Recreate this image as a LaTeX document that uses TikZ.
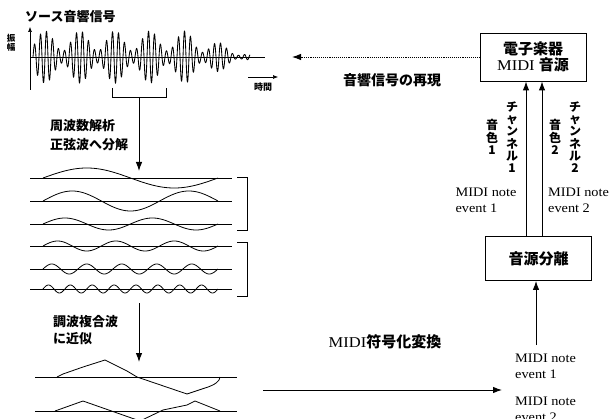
\documentclass[tikz,border=0pt]{standalone}
\usepackage{fontspec}
\setmainfont{Liberation Serif}[FakeStretch=1.1]
\newfontfamily\jp{Noto Sans CJK JP}
\usetikzlibrary{arrows.meta}
\begin{document}
\begin{tikzpicture}[x=1pt,y=-1pt,
  jt/.style={font=\jp\bfseries\fontsize{13}{15}\selectfont, inner sep=0pt},
  vt/.style={font=\jp\bfseries\fontsize{12}{12.3}\selectfont, align=center, inner sep=0pt},
  note/.style={font=\fontsize{13}{16}\selectfont, align=left, inner sep=0pt},
  box/.style={draw, line width=0.9pt, inner sep=0pt, minimum width=106pt, minimum height=46pt, align=center},
  arr/.style={line width=0.9pt, -{Latex[length=9pt,width=6.5pt]}},
  sarr/.style={line width=0.6pt, -{Latex[length=5pt,width=4pt]}},
  wave/.style={line width=0.8pt},
  base/.style={line width=0.8pt},
]
\useasboundingbox (0,0) rectangle (609,419);

% ---- source signal ----
\node[jt, anchor=west] (title) at (25,17) {ソース音響信号};
\node[font=\jp\bfseries\fontsize{8.5}{9.5}\selectfont, align=center, inner sep=0pt] (amp) at (11,43) {振\\幅};
\coordinate (yaxB) at (30,90);
\coordinate (yaxT) at (30,27);
\draw[sarr] (yaxB) -- (yaxT);
\coordinate (xaxL) at (30,57);
\coordinate (xaxR) at (265,57);
\draw[line width=0.7pt] (xaxL) -- (xaxR);
\coordinate (tL) at (248,77);
\coordinate (tR) at (278,77);
\draw[sarr] (tL) -- (tR);
\node[font=\jp\bfseries\fontsize{9}{10}\selectfont, inner sep=0pt] (time) at (263,87) {時間};
\draw[line width=0.85pt] plot[domain=33:250, samples=1600]
  (\x, {57 - (6+20*(0.5+0.5*cos(10.29*(\x-45))))*min(1,(258-\x)/70)*sin(60*(\x-33))});

% bracket + arrow 1
\draw[line width=0.8pt] (112,88) -- (112,97) -- (166,97) -- (166,88);
\coordinate (brk) at (139,97);
\coordinate (a1e) at (139,171);
\draw[arr] (brk) -- (a1e);
\node[jt, anchor=west] (fa1) at (50,126) {周波数解析};
\node[jt, anchor=west] (fa2) at (50,145) {正弦波へ分解};

% ---- sine components ----
\foreach \yy/\n/\a in {178/1/10, 201/1.5/10, 224/2/6, 246/3/5, 269/5/5, 289/8/4}{
  \draw[base] (30,\yy) -- (232,\yy);
  \pgfmathsetmacro{\kk}{360*\n/175}
  \draw[wave] plot[domain=43:218, samples=240] (\x, {\yy - \a*sin(\kk*(\x-43))});
}
\draw[line width=0.8pt] (237,177) -- (247,177) -- (247,230) -- (237,230);
\draw[line width=0.8pt] (237,242) -- (247,242) -- (247,296) -- (237,296);

% arrow 2
\coordinate (a2s) at (139,303);
\coordinate (a2e) at (139,362);
\draw[arr] (a2s) -- (a2e);
\node[jt, anchor=west] (hc1) at (53,322) {調波複合波};
\node[jt, anchor=west] (hc2) at (53,339) {に近似};

% ---- approximated waves ----
\draw[base] (35,377) -- (237,377);
\draw[wave] (57,377) -- (63,374) -- (83,367) -- (105,360) -- (127,371) -- (137,377)
  -- (187,394) -- (205,388) .. controls (215,385) and (220,381) .. (220,377);
\draw[base] (35,411) -- (237,411);
\draw[wave] (55,411) -- (83,401) -- (140,421) -- (163,410) -- (187,405) -- (195,401) -- (220,411);

% ---- MIDI conversion ----
\node[font=\fontsize{15}{17}\selectfont, inner sep=0pt] (conv) at (385,342) {MIDI{\jp\bfseries 符号化変換}};
\coordinate (ma) at (263,390);
\coordinate (mb) at (502,390);
\draw[arr] (ma) -- (mb);
\node[note, anchor=west] (n1) at (515,366) {MIDI note\\event 1};
\node[note, anchor=west] (n2) at (515,409) {MIDI note\\event 2};

% ---- source separation ----
\node[box, minimum height=44pt] (src) at (538.5,258.5) {\jp\bfseries\fontsize{15}{17}\selectfont 音源分離};
\coordinate (su) at (536,345);
\draw[arr] (su) -- (su |- src.south);

% ---- synthesizer ----
\node[box, minimum height=48pt] (synth) at (533,57)
  {{\jp\bfseries\fontsize{15}{18}\selectfont 電子楽器}\\[1pt]{\fontsize{15}{18}\selectfont MIDI {\jp\bfseries 音源}}};
\coordinate (c1) at (526,0);
\coordinate (c2) at (542,0);
\draw[arr] (c1 |- src.north) -- (c1 |- synth.south);
\draw[arr] (c2 |- src.north) -- (c2 |- synth.south);

\node[vt] (ch1) at (512,137) {チ\\ャ\\ン\\ネ\\ル\\1};
\node[vt] (tn1) at (492,137) {音\\色\\1};
\node[vt] (ch2) at (575,137) {チ\\ャ\\ン\\ネ\\ル\\2};
\node[vt] (tn2) at (555,137) {音\\色\\2};
\node[note] (me1) at (486,200) {MIDI note\\event 1};
\node[note, anchor=west] (me2) at (548,200) {MIDI note\\event 2};

\coordinate (rep) at (292,0);
\draw[line width=0.9pt, densely dotted, -{Latex[length=9pt,width=6.5pt]}] (synth.west) -- (synth.west -| rep);
\node[font=\jp\bfseries\fontsize{14}{16}\selectfont, inner sep=0pt] (rp) at (392,80) {音響信号の再現};
\end{tikzpicture}
\end{document}
